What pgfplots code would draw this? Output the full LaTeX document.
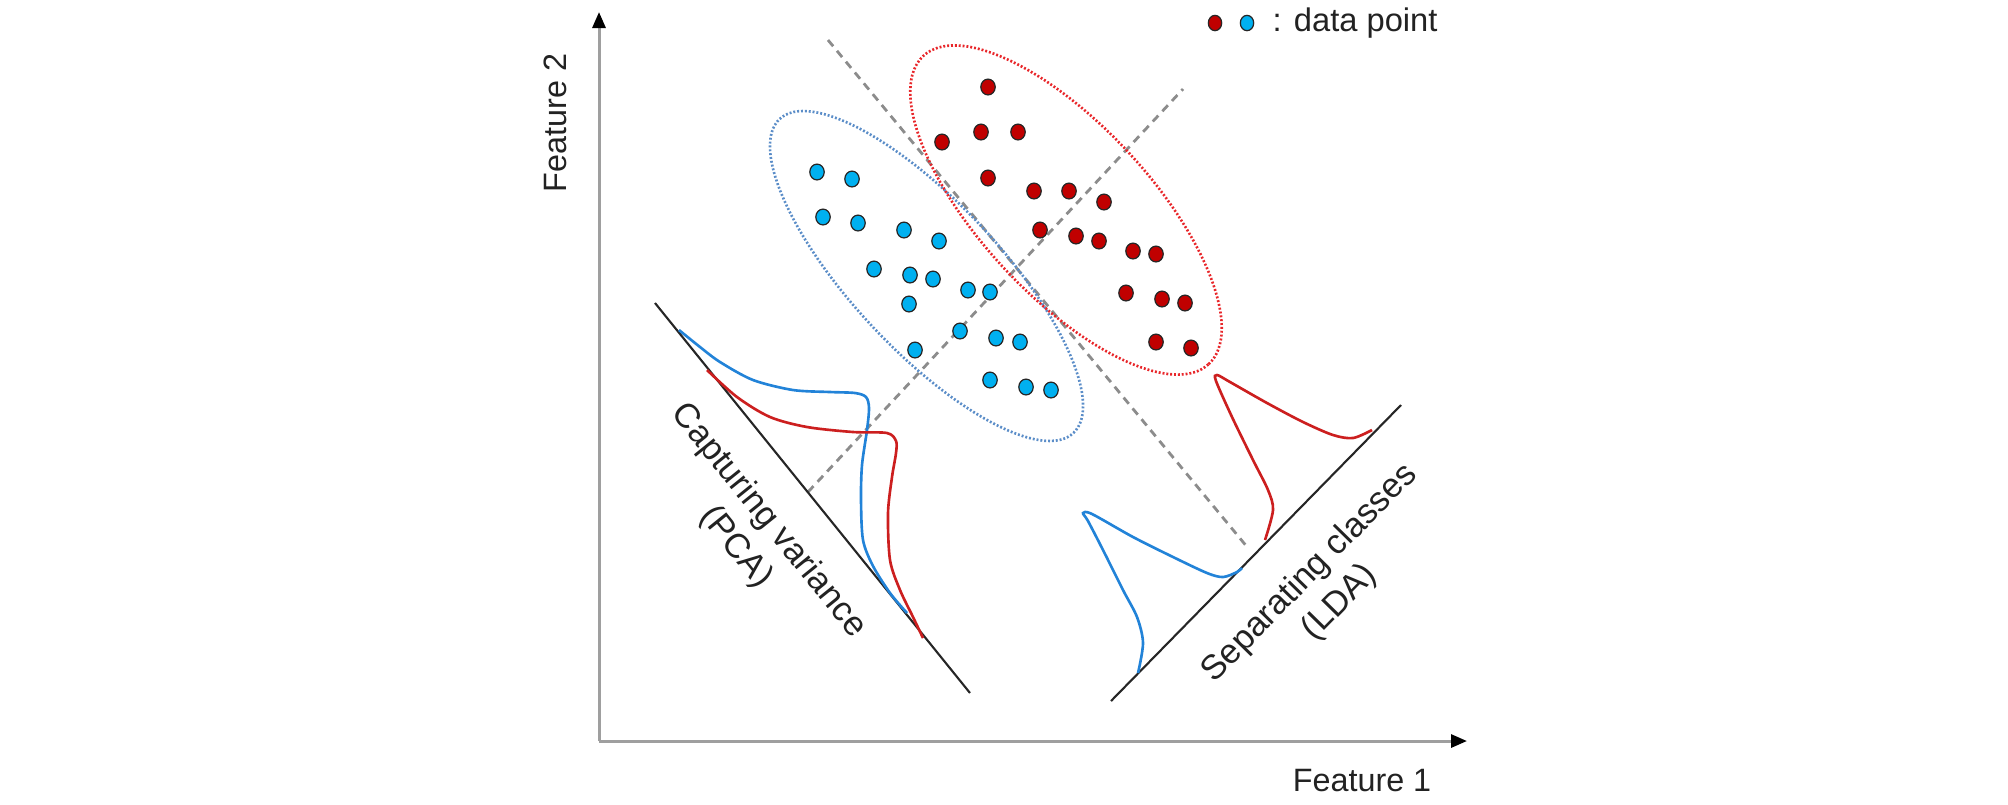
\documentclass[border=0pt]{standalone}
\usepackage{pgfplots}
\pgfplotsset{compat=1.18}
\usepackage{fontspec}
\setmainfont{Liberation Sans}
\usetikzlibrary{arrows.meta}
\definecolor{dotred}{HTML}{C00000}
\definecolor{dotblue}{HTML}{00B0F0}
\definecolor{curvered}{HTML}{CC1F1F}
\definecolor{curveblue}{HTML}{2283D8}
\definecolor{ellred}{HTML}{E8262A}
\definecolor{ellblue}{HTML}{5B8DC8}
\definecolor{txt}{HTML}{222222}
\begin{document}
\begin{tikzpicture}
\begin{axis}[
  x=0.1mm, y=0.1mm,
  xmin=0, xmax=2008, ymin=0, ymax=803,
  y dir=reverse,
  hide axis, clip=false,
]
\path (axis cs:0,0) rectangle (axis cs:2008,803);
% axes
\draw[gray!75, line width=0.85pt, -{Triangle[length=1.6mm,width=1.3mm,black]}] (axis cs:599,741) -- (axis cs:599,12);
\draw[gray!75, line width=0.85pt, -{Triangle[length=1.6mm,width=1.3mm,black]}] (axis cs:599,741) -- (axis cs:1467,741);
\node[font=\fontsize{9.2}{11}\selectfont, text=txt] at (axis cs:1362,781) {Feature 1};
\node[font=\fontsize{9.2}{11}\selectfont, text=txt, rotate=90] at (axis cs:555,123) {Feature 2};
% dashed directions
\draw[gray!90, line width=0.8pt, dash pattern=on 2.3pt off 1.7pt] (axis cs:808,492) -- (axis cs:1183,89);
\draw[gray!90, line width=0.8pt, dash pattern=on 2.3pt off 1.7pt] (axis cs:828,40) -- (axis cs:1248,548);
% ellipses
\draw[ellblue, line width=0.75pt, dash pattern=on 0.55pt off 0.55pt, rotate around={-46.9:(axis cs:926.5,276)}] (axis cs:926.5,276) ellipse [x radius=21.5mm, y radius=7.4mm];
\draw[ellred, line width=0.75pt, dash pattern=on 0.55pt off 0.55pt, rotate around={-47.2:(axis cs:1066,210)}] (axis cs:1066,210) ellipse [x radius=21.0mm, y radius=8.5mm];
% projection lines
\draw[black!85, line width=0.6pt] (axis cs:655,303) -- (axis cs:970,693);
\draw[black!85, line width=0.6pt] (axis cs:1111,701) -- (axis cs:1401,405);
% PCA distributions
\addplot[curveblue, line width=0.75pt, smooth, tension=0.5] coordinates {
(679,330) (700,347) (720,362) (753,380) (793,390) (830,392) (855,393) (866,397) (869,408) (867,430) (862,465) (861,500) (863,540) (873,566) (890,593) (907,613)};
\addplot[curvered, line width=0.75pt, smooth, tension=0.5] coordinates {
(707,370) (737,397) (770,417) (807,427) (853,432) (887,433) (896,441) (896,453) (892,477) (888,513) (890,560) (900,590) (913,617) (923,638)};
% LDA distributions
\addplot[curveblue, line width=0.75pt, smooth, tension=0.5] coordinates {
(1138,673) (1143,643) (1137,617) (1123,590) (1103,550) (1088,521) (1083,513) (1092,514) (1133,537) (1173,557) (1207,573) (1223,577) (1237,572) (1242,568)};
\addplot[curvered, line width=0.75pt, smooth, tension=0.5] coordinates {
(1265,540) (1273,510) (1268,490) (1253,460) (1232,417) (1216,381) (1217,375) (1230,382) (1267,403) (1303,422) (1333,435) (1353,438) (1372,430)};
% data points
\addplot[only marks, mark=*, mark size=2.05pt, mark options={fill=dotred, draw=black!85, line width=0.35pt, yscale=1.1}] coordinates {
(988,87) (942,142) (981,132) (1018,132) (988,178) (1034,191) (1069,191) (1104,202)
(1040,230) (1076,236) (1099,241) (1133,251) (1156,254) (1126,293) (1162,299) (1185,303)
(1156,342) (1191,348)};
\addplot[only marks, mark=*, mark size=2.05pt, mark options={fill=dotblue, draw=black!85, line width=0.35pt, yscale=1.1}] coordinates {
(817,172) (852,179) (823,217) (858,223) (904,230) (939,241) (874,269) (910,275) (933,279)
(968,290) (990,292) (909,304) (960,331) (996,338) (1020,342) (915,350) (990,380) (1026,387) (1051,390)};
% legend
\addplot[only marks, mark=*, mark size=1.9pt, mark options={fill=dotred, draw=black!85, line width=0.35pt, yscale=1.15}] coordinates {(1215,23)};
\addplot[only marks, mark=*, mark size=1.9pt, mark options={fill=dotblue, draw=black!85, line width=0.35pt, yscale=1.15}] coordinates {(1247,23)};
\node[anchor=west, inner sep=0pt, font=\fontsize{9.3}{11}\selectfont, text=txt] at (axis cs:1272,23) {: data point};
% rotated labels
\node[rotate=-51.1, align=center, font=\fontsize{9.8}{11.9}\selectfont, text=txt] at (axis cs:752,534) {Capturing variance\\(PCA)};
\node[rotate=45.6, align=center, font=\fontsize{9.8}{11.9}\selectfont, text=txt] at (axis cs:1325,588) {Separating classes\\(LDA)};
\end{axis}
\end{tikzpicture}
\end{document}
